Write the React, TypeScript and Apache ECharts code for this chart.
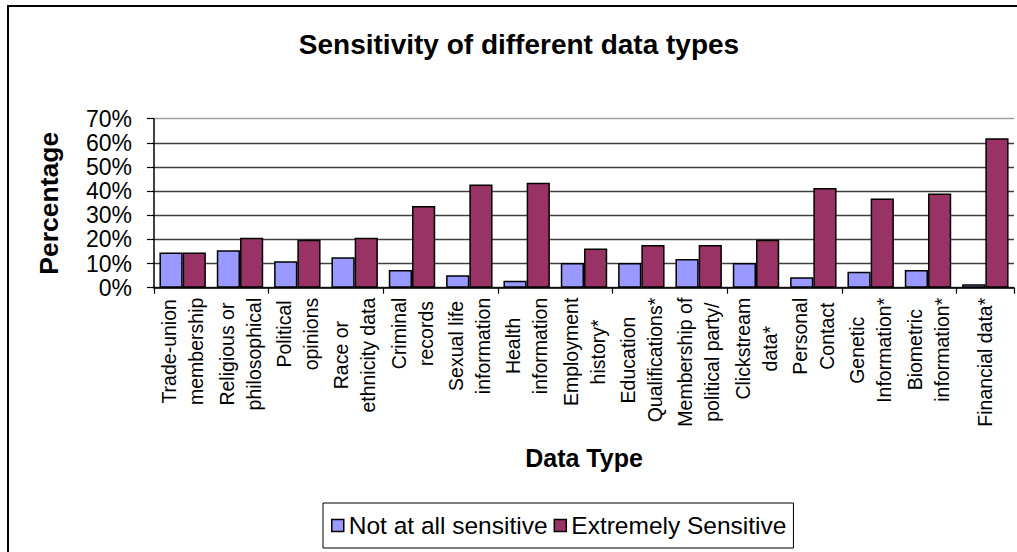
import React, { useEffect, useRef } from "react";
import * as echarts from "echarts";

const categories = [
  "Trade-union\nmembership",
  "Religious or\nphilosophical",
  "Political\nopinions",
  "Race or\nethnicity data",
  "Criminal\nrecords",
  "Sexual life\ninformation",
  "Health\ninformation",
  "Employment\nhistory*",
  "Education\nQualifications*",
  "Membership of\npolitical party/",
  "Clickstream\ndata*",
  "Personal\nContact",
  "Genetic\nInformation*",
  "Biometric\ninformation*",
  "Financial data*",
];
const notAtAllSensitive = [14.6, 15.5, 11.0, 12.6, 7.3, 5.2, 2.9, 10.2, 10.2, 11.9, 10.2, 4.3, 6.6, 7.3, 1.4];
const extremelySensitive = [14.6, 20.7, 19.9, 20.7, 33.8, 42.7, 43.5, 16.2, 17.7, 17.7, 19.9, 41.3, 36.9, 39.0, 61.9];
const seriesNames = ["Not at all sensitive", "Extremely Sensitive"];
const yMin = 0;
const yMax = 70;
const yStep = 10;

const FONT = '"Liberation Sans", Arial, sans-serif';
const LABEL_FS = 19.5;
const LABEL_LINE = 27;
const LABEL_MARGIN = 10;

export default function App() {
  const ref = useRef<HTMLDivElement>(null);
  useEffect(() => {
    if (!ref.current) return;
    const chart = echarts.init(ref.current, undefined, { renderer: "svg" });

    const canvas = document.createElement("canvas");
    const ctx = canvas.getContext("2d")!;
    ctx.font = `${LABEL_FS}px "Liberation Sans"`;
    const labelLines = categories.map((c) => c.split("\n"));
    const blockWidth = labelLines.map((ls) => Math.max(...ls.map((l) => ctx.measureText(l).width)));

    const gridColors = ["#404040", "#404040", "#404040", "#404040", "#404040", "#404040", "#404040", "#a0a0a0"];

    chart.setOption({
      animation: false,
      backgroundColor: "#fff",
      title: {
        text: "Sensitivity of different data types",
        left: 514,
        textAlign: "center",
        top: 25,
        textStyle: { fontFamily: FONT, fontSize: 28, fontWeight: "bold", color: "#000" },
      },
      legend: {
        data: seriesNames,
        left: 323,
        top: 503,
        itemWidth: 12,
        itemHeight: 12,
        itemGap: 6,
        icon: "rect",
        padding: [10, 7, 10, 8],
        borderColor: "#000",
        borderWidth: 1,
        itemStyle: { borderColor: "#000", borderWidth: 1.5 },
        textStyle: { fontFamily: FONT, fontSize: 24.5, color: "#000" },
      },
      grid: { left: 154, right: 3, top: 118.7, bottom: 264.3, containLabel: false },
      xAxis: {
        type: "category",
        data: categories,
        name: "Data Type",
        nameLocation: "middle",
        nameGap: 158,
        nameTextStyle: { fontFamily: FONT, fontSize: 25, fontWeight: "bold", color: "#000" },
        axisLine: { lineStyle: { color: "#000", width: 1.5 } },
        axisTick: { show: true, length: 6, lineStyle: { color: "#000", width: 1.2 } },
        axisLabel: { show: false },
      },
      yAxis: {
        type: "value",
        min: yMin,
        max: yMax,
        interval: yStep,
        name: "Percentage",
        nameLocation: "middle",
        nameGap: 92,
        nameTextStyle: { fontFamily: FONT, fontSize: 26.5, fontWeight: "bold", color: "#000" },
        axisLine: { show: true, lineStyle: { color: "#000", width: 1.5 } },
        axisTick: { show: true, length: 7, lineStyle: { color: "#000", width: 1.2 } },
        axisLabel: {
          margin: 22,
          formatter: (v: number) => `${v}%`,
          fontFamily: FONT,
          fontSize: 23,
          color: "#000",
        },
        splitLine: { show: true, lineStyle: { color: gridColors, width: 1.4 } },
      },
      series: [
        {
          name: seriesNames[0],
          type: "bar",
          data: notAtAllSensitive,
          barGap: "0%",
          barCategoryGap: "19%",
          itemStyle: { color: "#9999ff", borderColor: "#000", borderWidth: 1.5 },
        },
        {
          name: seriesNames[1],
          type: "bar",
          data: extremelySensitive,
          barGap: "0%",
          barCategoryGap: "19%",
          itemStyle: { color: "#993366", borderColor: "#000", borderWidth: 1.5 },
        },
        {
          // category labels: rotated, each line centred within its label block
          name: "categoryLabels",
          type: "custom",
          silent: true,
          clip: false,
          data: categories.map((_, i) => [i, yMin]),
          encode: { x: 0, y: 1 },
          renderItem: (_params: any, api: any) => {
            const i = api.value(0);
            const pt = api.coord([i, yMin]);
            const lines = labelLines[i];
            const W = blockWidth[i];
            const n = lines.length;
            return {
              type: "group",
              children: lines.map((l, j) => ({
                type: "text",
                x: pt[0] + (j - (n - 1) / 2) * LABEL_LINE,
                y: pt[1] + LABEL_MARGIN + W / 2,
                rotation: Math.PI / 2,
                style: {
                  text: l,
                  x: 0,
                  y: 0,
                  align: "center",
                  verticalAlign: "middle",
                  fontSize: LABEL_FS,
                  fontFamily: FONT,
                  fill: "#000",
                },
              })),
            };
          },
        },
      ],
      graphic: [
        {
          type: "rect",
          shape: { x: 8, y: 6, width: 1100, height: 700 },
          style: { fill: "none", stroke: "#000", lineWidth: 2 },
          silent: true,
        },
      ],
    });
    return () => chart.dispose();
  }, []);
  return <div ref={ref} style={{ position: "absolute", left: 0, top: 0, width: 1017, height: 552 }} />;
}
